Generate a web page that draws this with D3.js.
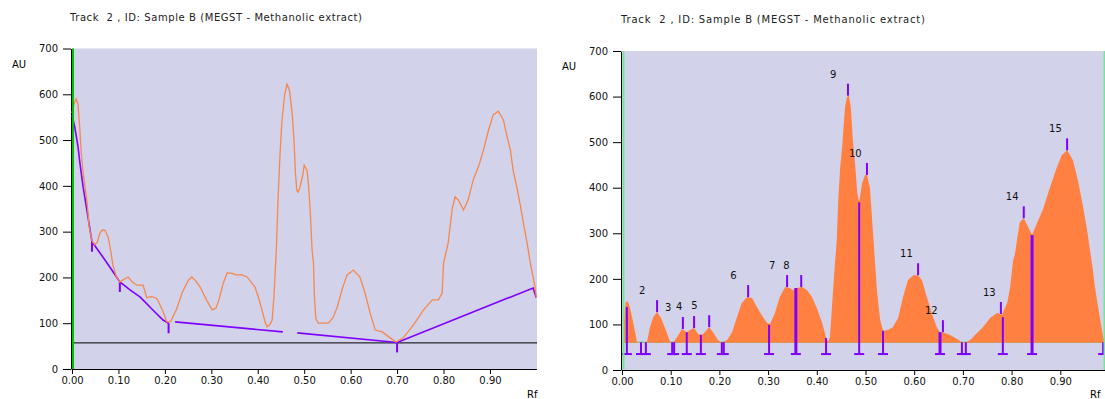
<!DOCTYPE html>
<html>
<head>
<meta charset="utf-8">
<script src="https://cdn.jsdelivr.net/npm/d3@7"></script>
<style>
  body { margin: 0; background: #fff; }
  svg { display: block; }
</style>
</head>
<body>
<div id="vis"></div>
<script>
var titleText = "Track  2 , ID: Sample B (MEGST - Methanolic extract)";
var rfTicks = [0, 0.1, 0.2, 0.3, 0.4, 0.5, 0.6, 0.7, 0.8, 0.9];
var auTicks = [0, 100, 200, 300, 400, 500, 600, 700];

// left: raw scan [Rf, AU]
var rawTrace = [[0.000,559],[0.004,578],[0.009,590],[0.013,578],[0.017,522],[0.020,470],[0.024,428],[0.032,369],
  [0.037,310],[0.043,280],[0.049,272],[0.054,276],[0.060,297],[0.066,304],[0.071,303],[0.078,288],[0.084,255],
  [0.088,227],[0.095,203],[0.103,190],[0.112,196],[0.121,201],[0.130,190],[0.140,183],[0.153,183],[0.161,156],
  [0.172,158],[0.183,154],[0.195,128],[0.204,103],[0.212,103],[0.225,130],[0.237,166],[0.250,193],[0.258,201],
  [0.266,193],[0.276,179],[0.290,150],[0.302,129],[0.310,133],[0.315,146],[0.325,185],[0.334,210],[0.345,209],
  [0.355,205],[0.365,206],[0.377,201],[0.394,179],[0.402,155],[0.409,129],[0.416,102],[0.420,92],[0.426,97],
  [0.431,107],[0.435,160],[0.437,201],[0.440,260],[0.444,380],[0.448,470],[0.452,540],[0.458,600],[0.463,622],
  [0.468,610],[0.474,560],[0.478,500],[0.481,430],[0.484,390],[0.487,386],[0.491,397],[0.497,424],[0.500,445],
  [0.506,434],[0.509,406],[0.513,345],[0.517,260],[0.520,231],[0.522,160],[0.525,110],[0.530,100],[0.552,100],
  [0.562,112],[0.571,135],[0.582,175],[0.592,205],[0.606,216],[0.620,201],[0.631,166],[0.642,122],[0.653,85],
  [0.668,81],[0.685,68],[0.698,59],[0.713,68],[0.735,96],[0.757,129],[0.776,151],[0.789,151],[0.797,166],
  [0.800,231],[0.810,275],[0.815,319],[0.819,351],[0.825,376],[0.832,369],[0.843,347],[0.853,369],[0.864,413],
  [0.875,441],[0.886,478],[0.897,522],[0.907,555],[0.918,563],[0.929,544],[0.937,507],[0.944,478],[0.950,434],
  [0.959,391],[0.966,354],[0.972,319],[0.980,275],[0.987,231],[0.997,179],[1.000,155]];

// left: baseline pieces
var baseSeg1 = [[0.000,555],[0.006,528],[0.013,485],[0.017,450],[0.024,397],[0.032,347],[0.039,303],[0.043,278],
  [0.050,268],[0.071,238],[0.088,213],[0.103,190],[0.125,173],[0.147,157],[0.172,131],[0.196,107],[0.208,100]];
var baseSeg2 = [[0.222,103],[0.454,81]];
var baseSeg3 = [[0.485,79],[0.700,58]];
var baseSeg4 = [[0.700,58],[0.993,177],[1.000,155]];
var baseMarks = [[0.043,278],[0.103,190],[0.208,100],[0.700,58]];
var thresholdAU = 57;

// right: corrected scan [Rf, AU]
var corrTrace = [[0.000,60],[0.002,60],[0.004,103],[0.006,134],[0.008,149],[0.012,151],[0.016,138],[0.021,114],
  [0.027,83],[0.031,61],[0.051,60],[0.057,92],[0.064,116],[0.072,127],[0.080,114],[0.090,88],[0.099,61],
  [0.105,60],[0.113,72],[0.123,90],[0.133,83],[0.140,88],[0.148,92],[0.156,79],[0.164,77],[0.170,83],[0.179,94],
  [0.187,83],[0.197,66],[0.205,59],[0.216,66],[0.226,83],[0.236,116],[0.246,147],[0.257,160],[0.267,158],
  [0.277,138],[0.287,120],[0.298,103],[0.304,101],[0.314,125],[0.324,160],[0.335,182],[0.345,180],[0.351,175],
  [0.359,180],[0.370,182],[0.380,175],[0.390,160],[0.400,136],[0.411,103],[0.419,72],[0.423,62],[0.427,72],
  [0.433,169],[0.437,230],[0.441,285],[0.444,373],[0.448,445],[0.452,489],[0.458,577],[0.462,599],[0.466,602],
  [0.470,575],[0.474,504],[0.478,460],[0.483,390],[0.487,368],[0.493,410],[0.499,428],[0.503,428],[0.509,401],
  [0.515,307],[0.520,230],[0.524,169],[0.530,110],[0.536,86],[0.546,88],[0.556,94],[0.567,114],[0.577,160],
  [0.587,197],[0.598,208],[0.608,208],[0.616,197],[0.626,160],[0.637,121],[0.647,92],[0.653,83],[0.659,83],
  [0.674,77],[0.688,68],[0.698,61],[0.706,61],[0.715,66],[0.729,81],[0.741,94],[0.756,114],[0.770,125],
  [0.780,121],[0.791,147],[0.797,182],[0.803,240],[0.807,255],[0.811,285],[0.817,325],[0.825,333],[0.834,314],
  [0.842,296],[0.852,322],[0.864,351],[0.879,401],[0.893,445],[0.903,471],[0.914,482],[0.926,460],[0.936,417],
  [0.947,357],[0.955,307],[0.961,263],[0.967,219],[0.971,182],[0.982,110],[0.988,72],[0.992,60]];
var fillBase = 60;

// right: peaks
var peakNo = [2, 3, 4, 5, 6, 7, 8, 9, 10, 11, 12, 13, 14, 15];
var peakRf = [0.072, 0.125, 0.148, 0.179, 0.259, 0.339, 0.368, 0.464, 0.503, 0.608, 0.659, 0.778, 0.825, 0.914];
var peakAU = [127, 90, 92, 94, 160, 182, 182, 602, 428, 208, 83, 123, 333, 482];

// right: start / end / drop lines
var dropRf = [0.010, 0.039, 0.049, 0.103, 0.107, 0.133, 0.162, 0.205, 0.209, 0.302, 0.357, 0.419,
  0.487, 0.536, 0.653, 0.698, 0.706, 0.782, 0.842, 0.988];
var dropAU = [138, 61, 61, 61, 61, 83, 77, 61, 61, 99, 180, 70, 368, 86, 83, 61, 61, 116, 296, 61];
var dropThick = [0, 0, 0, 0, 0, 0, 0, 0, 0, 0, 1, 0, 0, 0, 1, 0, 0, 0, 1, 0];
var dropFootAU = 35;

var bg = "#d2d2ea", orange = "#ff8040", purple = "#8000ff";
var font = "DejaVu Sans, Verdana, sans-serif";

var svg = d3.select('#vis')
    .append('svg')
    .attr('width', 1105)
    .attr('height', 399);

// set the ranges
var leftX = d3.scaleLinear().domain([0, 1]).range([72, 536.4]),
    leftY = d3.scaleLinear().domain([0, 700]).range([369, 48.5]);
var rightX = d3.scaleLinear().domain([0, 1]).range([622, 1109]),
    rightY = d3.scaleLinear().domain([0, 700]).range([370, 51]);

// background, axes, title and labels of one panel
function drawFrame(x, y, o) {
    var g = svg.append('g');
    g.append('rect')
        .attr('x', x(0))
        .attr('y', y(700))
        .attr('width', o.right - x(0))
        .attr('height', y(0) - y(700))
        .attr('fill', bg);

    g.append('text')
        .attr('x', o.titleX)
        .attr('y', o.titleY)
        .attr('textLength', o.titleW)
        .attr('lengthAdjust', 'spacing')
        .style('white-space', 'pre')
        .attr('font-family', font)
        .attr('font-size', 10)
        .attr('fill', '#222')
        .text(titleText);

    var ya = g.append('g')
        .attr('transform', 'translate(' + (x(0) - 1) + ',0)')
        .call(d3.axisLeft(y).tickValues(auTicks).tickSize(8).tickPadding(5).tickSizeOuter(0));
    var xa = g.append('g')
        .attr('transform', 'translate(0,' + y(0) + ')')
        .call(d3.axisBottom(x).tickValues(rfTicks).tickSize(5).tickPadding(3)
            .tickFormat(d3.format('.2f')).tickSizeOuter(0));
    [ya, xa].forEach(function(a) {
        a.attr('font-family', font).attr('font-size', 10);
        a.selectAll('text').attr('fill', '#111');
    });

    g.append('text')
        .attr('x', x(0) - 60)
        .attr('y', y(700) + 19)
        .attr('font-family', font)
        .attr('font-size', 10)
        .text('AU');
    g.append('text')
        .attr('x', o.rfX)
        .attr('y', 398)
        .attr('font-family', font)
        .attr('font-size', 10)
        .text('Rf');
    return g;
}

// ---- left panel: raw track with baseline
var gl = drawFrame(leftX, leftY, {right: 537, titleX: 70, titleY: 21, titleW: 292, rfX: 527});

var lineL = d3.line()
    .x(function(d) { return leftX(d[0]); })
    .y(function(d) { return leftY(d[1]); });

gl.append('line')
    .attr('x1', leftX(0)).attr('x2', 537)
    .attr('y1', leftY(thresholdAU)).attr('y2', leftY(thresholdAU))
    .attr('stroke', '#000').attr('stroke-width', 1);

[baseSeg1, baseSeg2, baseSeg3, baseSeg4].forEach(function(seg) {
    gl.append('path')
        .datum(seg)
        .attr('d', lineL)
        .attr('fill', 'none')
        .attr('stroke', purple)
        .attr('stroke-width', 1.6);
});

gl.selectAll('.bmark')
    .data(baseMarks)
    .enter().append('line')
    .attr('class', 'bmark')
    .attr('x1', function(d) { return leftX(d[0]); })
    .attr('x2', function(d) { return leftX(d[0]); })
    .attr('y1', function(d) { return leftY(d[1]); })
    .attr('y2', function(d) { return leftY(d[1]) + 10; })
    .attr('stroke', purple)
    .attr('stroke-width', 2);

gl.append('path')
    .datum(rawTrace)
    .attr('d', lineL)
    .attr('fill', 'none')
    .attr('stroke', '#f5884c')
    .attr('stroke-width', 1.3);

gl.append('rect')
    .attr('x', leftX(0)).attr('y', leftY(700))
    .attr('width', 2).attr('height', leftY(0) - leftY(700))
    .attr('fill', '#00c000');

// ---- right panel: integrated peaks
var gr = drawFrame(rightX, rightY, {right: 1105, titleX: 621, titleY: 23, titleW: 304, rfX: 1090});

svg.append('clipPath').attr('id', 'clipR')
    .append('rect')
    .attr('x', rightX(0)).attr('y', 0)
    .attr('width', 1105 - rightX(0)).attr('height', 399);

var plotR = gr.append('g').attr('clip-path', 'url(#clipR)');

plotR.append('line')
    .attr('x1', rightX(0)).attr('x2', 1105)
    .attr('y1', rightY(fillBase) - 0.5).attr('y2', rightY(fillBase) - 0.5)
    .attr('stroke', '#40d870').attr('stroke-width', 1);

var area = d3.area()
    .x(function(d) { return rightX(d[0]); })
    .y0(rightY(fillBase))
    .y1(function(d) { return rightY(Math.max(d[1], fillBase)); });

plotR.append('path')
    .datum(corrTrace)
    .attr('d', area)
    .attr('fill', orange);

// drop lines with a foot
dropRf.forEach(function(rf, i) {
    var xx = rightX(rf);
    plotR.append('line')
        .attr('x1', xx).attr('x2', xx)
        .attr('y1', rightY(dropAU[i])).attr('y2', rightY(dropFootAU))
        .attr('stroke', purple)
        .attr('stroke-width', dropThick[i] ? 3 : 2);
    plotR.append('line')
        .attr('x1', xx - 5).attr('x2', xx + 5)
        .attr('y1', rightY(dropFootAU)).attr('y2', rightY(dropFootAU))
        .attr('stroke', purple)
        .attr('stroke-width', 2);
});

// peak ticks and numbers
peakNo.forEach(function(n, i) {
    var xx = rightX(peakRf[i]), yy = rightY(peakAU[i]);
    plotR.append('line')
        .attr('x1', xx).attr('x2', xx)
        .attr('y1', yy).attr('y2', yy - 12)
        .attr('stroke', purple)
        .attr('stroke-width', 2);
    plotR.append('text')
        .attr('x', xx - 18)
        .attr('y', yy - 18)
        .attr('font-family', font)
        .attr('font-size', 10)
        .attr('fill', '#111')
        .text(n);
});

gr.append('rect')
    .attr('x', rightX(0) + 0.5).attr('y', rightY(700))
    .attr('width', 2).attr('height', rightY(0) - rightY(700))
    .attr('fill', '#78e49a');
gr.append('rect')
    .attr('x', 1103.5).attr('y', rightY(700))
    .attr('width', 1.5).attr('height', rightY(0) - rightY(700))
    .attr('fill', '#78e49a');
</script>
</body>
</html>
